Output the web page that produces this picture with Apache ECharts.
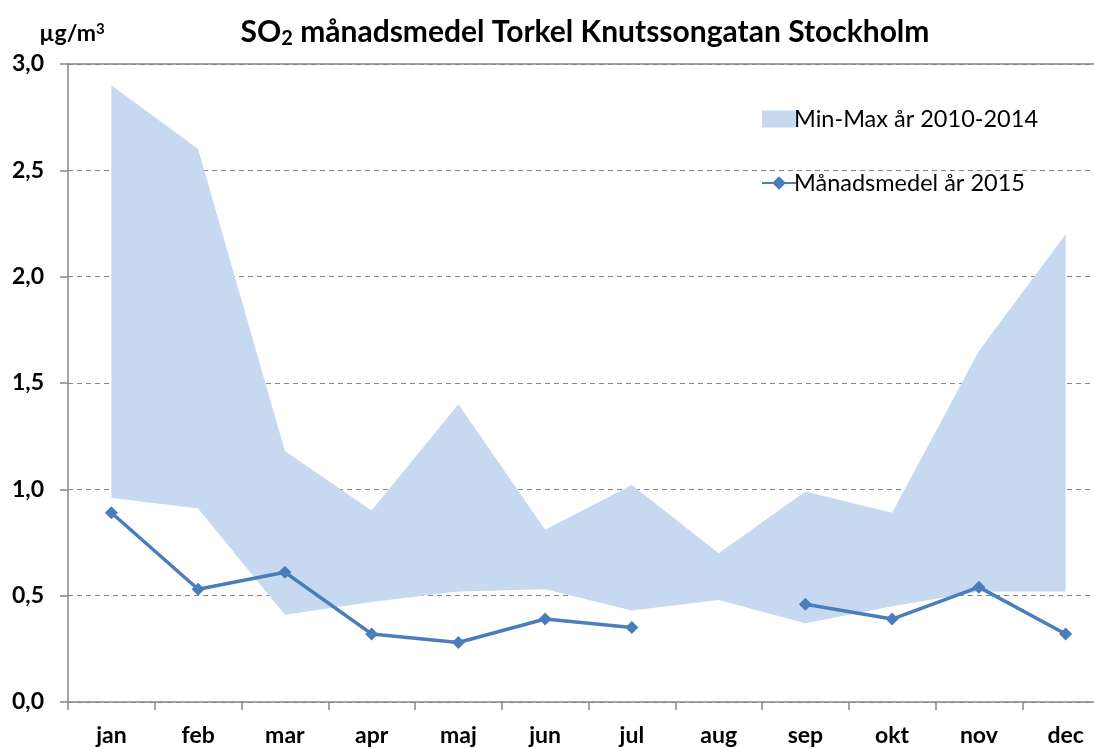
<!DOCTYPE html>
<html>
<head>
<meta charset="utf-8">
<script src="https://cdn.jsdelivr.net/npm/echarts@6/dist/echarts.min.js"></script>
<style>
  html, body { margin: 0; padding: 0; background: #fff; }
  #chart { width: 1094px; height: 748px; }
</style>
</head>
<body>
<div id="chart"></div>
<script>
const months = ['jan', 'feb', 'mar', 'apr', 'maj', 'jun', 'jul', 'aug', 'sep', 'okt', 'nov', 'dec'];
const minValues = [0.96, 0.91, 0.41, 0.47, 0.52, 0.53, 0.43, 0.48, 0.37, 0.45, 0.52, 0.52];
const maxValues = [2.9, 2.6, 1.18, 0.9, 1.4, 0.81, 1.02, 0.7, 0.99, 0.89, 1.65, 2.2];
const mean2015 = [0.89, 0.53, 0.61, 0.32, 0.28, 0.39, 0.35, null, 0.46, 0.39, 0.54, 0.32];
const yTicks = [0, 0.5, 1, 1.5, 2, 2.5, 3];

const FONT = 'Lato, "Open Sans", sans-serif';
const bandColor = '#c6d9f1';
const lineColor = '#4a7ebb';

const chart = echarts.init(document.getElementById('chart'), null, { renderer: 'canvas' });

// band = transparent min + stacked (max - min)
const bandRange = maxValues.map((v, i) => +(v - minValues[i]).toFixed(3));

const option = {
  animation: false,
  title: {
    text: 'SO{sub|2} månadsmedel Torkel Knutssongatan Stockholm',
    left: 580,
    textAlign: 'center',
    top: 10,
    textStyle: {
      fontFamily: FONT,
      fontSize: 30,
      fontWeight: 'bold',
      color: '#000',
      rich: {
        sub: { fontFamily: FONT, fontSize: 20, fontWeight: 'bold', verticalAlign: 'bottom', padding: [14, 0, 0, 0] }
      }
    }
  },
  legend: {
    orient: 'vertical',
    left: 756,
    top: 102,
    itemGap: 40,
    itemWidth: 34,
    itemHeight: 17,
    textStyle: { fontFamily: FONT, fontSize: 23.5, color: '#000', padding: [0, 0, 0, -7] },
    data: [
      { name: 'Min-Max år 2010-2014', icon: 'rect' },
      { name: 'Månadsmedel år 2015' }
    ]
  },
  grid: { left: 68, top: 64, width: 1041, height: 638, containLabel: false, outerBoundsMode: 'none' },
  xAxis: [
    {
      type: 'category',
      data: months,
      boundaryGap: true,
      axisLine: { lineStyle: { color: '#868686', width: 1.5 } },
      axisTick: { show: true, length: 8, lineStyle: { color: '#868686', width: 1.5 } },
      axisLabel: { fontFamily: FONT, fontSize: 23, fontWeight: 'bold', color: '#000', margin: 22 },
      splitLine: { show: false }
    },
    {
      type: 'category',
      data: months,
      position: 'top',
      axisLine: { lineStyle: { color: '#868686', width: 1.5 } },
      axisTick: { show: false },
      axisLabel: { show: false }
    }
  ],
  yAxis: {
    type: 'value',
    min: yTicks[0],
    max: yTicks[yTicks.length - 1],
    interval: 0.5,
    name: 'µg/m{sup|3}',
    nameLocation: 'end',
    nameGap: 18,
    nameTextStyle: {
      fontFamily: FONT, fontSize: 23, fontWeight: 'bold', color: '#000', align: 'center', padding: [0, 0, 0, 8],
      rich: { sup: { fontFamily: FONT, fontSize: 15, fontWeight: 'bold', verticalAlign: 'top', padding: [0, 0, 9, 0] } }
    },
    axisLine: { show: true, lineStyle: { color: '#868686', width: 1.5 } },
    axisTick: { show: true, length: 8, lineStyle: { color: '#868686', width: 1.5 } },
    axisLabel: {
      fontFamily: FONT, fontSize: 23, fontWeight: 'bold', color: '#000', margin: 24,
      formatter: v => v.toFixed(1).replace('.', ',')
    },
    splitLine: { lineStyle: { color: '#868686', type: [5, 4], width: 1 } }
  },
  series: [
    {
      name: 'base',
      type: 'line',
      stack: 'band',
      data: minValues,
      symbol: 'none',
      lineStyle: { opacity: 0 },
      areaStyle: { opacity: 0 },
      silent: true,
      z: 1
    },
    {
      name: 'Min-Max år 2010-2014',
      type: 'line',
      stack: 'band',
      data: bandRange,
      symbol: 'none',
      lineStyle: { opacity: 0 },
      areaStyle: { color: bandColor, opacity: 1 },
      itemStyle: { color: bandColor },
      z: 1
    },
    {
      name: 'Månadsmedel år 2015',
      type: 'line',
      data: mean2015,
      connectNulls: false,
      symbol: 'diamond',
      symbolSize: 13,
      lineStyle: { color: lineColor, width: 3.5 },
      itemStyle: { color: lineColor },
      z: 3
    }
  ]
};

chart.setOption(option);
</script>
</body>
</html>
